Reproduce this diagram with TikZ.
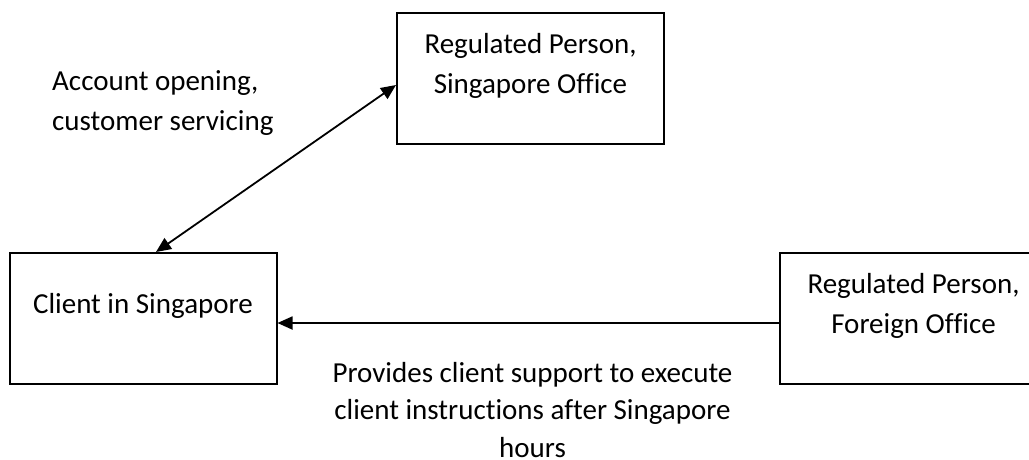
\documentclass[tikz,border=0pt]{standalone}
\usepackage{fontspec}
\setmainfont{Carlito}[Ligatures=NoCommon]
\usetikzlibrary{arrows.meta}

\tikzset{
  box/.style={draw, line width=2pt, minimum width=267pt, minimum height=131pt, inner sep=0pt},
  txt/.style={font=\fontsize{29}{39.5}\selectfont, align=center, anchor=base, inner sep=0pt},
  link/.style={line width=1.8pt, -{Triangle[length=15pt,width=13pt]}},
  twoway/.style={line width=1.8pt, {Triangle[length=15pt,width=13pt]}-{Triangle[length=15pt,width=13pt]}},
}

\begin{document}
\begin{tikzpicture}[x=1pt,y=-1pt]
  %%%%% START %%%%%
  \useasboundingbox (0,0) rectangle (1029,459);

  % boxes
  \node[box] (sgo) at (530.5,78.5) {};
  \node[box] (client) at (143,318.5) {};
  \node[box] (frn) at (913.5,318.5) {};

  % box texts sit high in the box (base = last line)
  \node[txt] (sgotxt) at (530.5,93) {Regulated Person,\\Singapore Office};
  \node[txt] (clienttxt) at (143,313) {Client in Singapore};
  \node[txt] (frntxt) at (913.5,333) {Regulated Person,\\Foreign Office};

  % arrows
  \draw[twoway] ([xshift=13pt]client.north) -- ([yshift=-6.5pt]sgo.west);
  \draw[link] ([yshift=-4.5pt]frn.west) -- ([yshift=-4.5pt]client.east);

  % arrow labels
  \node[txt, align=left, anchor=base west] (acclbl) at (52,130) {Account opening,\\customer servicing};
  \node[txt, font=\fontsize{29}{37.5}\selectfont] (supportlbl) at (532.5,457) {Provides client support to execute\\client instructions after Singapore\\hours};
  %%%%% END %%%%%
\end{tikzpicture}
\end{document}
